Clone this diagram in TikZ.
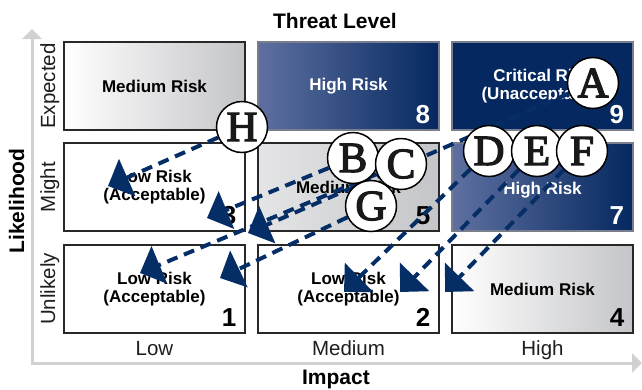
\documentclass[tikz,border=0pt]{standalone}
\usepackage{fontspec}
\setmainfont{Liberation Sans}
\newfontfamily\letterfont[FakeBold=3]{Liberation Serif}
\usetikzlibrary{arrows.meta}

\definecolor{navy}{RGB}{5,40,96}
\definecolor{steel}{RGB}{94,112,160}
\definecolor{cellgray}{RGB}{196,197,200}
\definecolor{cellline}{RGB}{40,40,40}
\definecolor{blueline}{RGB}{120,126,140}
\definecolor{axisgray}{RGB}{208,209,211}
\definecolor{linkblue}{RGB}{6,46,102}
\definecolor{labelgray}{RGB}{30,30,30}

\pgfdeclarelayer{cells}
\pgfdeclarelayer{links}
\pgfsetlayers{cells,links,main}

\tikzset{
  cell/.style={minimum width=181pt, minimum height=88pt, inner sep=0pt,
    align=center, font=\fontsize{17}{18}\selectfont\bfseries,
    draw=cellline, line width=1.8pt},
  whitecell/.style={cell, fill=white},
  graycell/.style={cell, left color=white, right color=cellgray},
  darkgraycell/.style={cell, left color=cellgray!45, right color=cellgray},
  bluecell/.style={cell, draw=blueline, line width=1.1pt, text=white,
    left color=steel, middle color=navy!75!steel, right color=navy},
  navycell/.style={cell, draw=blueline, line width=1.1pt, text=white, fill=navy},
  cellnum/.style={anchor=base east, font=\fontsize{26}{26}\selectfont\bfseries},
  marker/.style={circle, draw=black, line width=1.5pt, fill=white,
    minimum size=51pt, inner sep=0pt, text=black!90,
    font=\letterfont\fontsize{43}{43}\selectfont},
  link/.style={draw=linkblue, line width=4pt, dash pattern=on 11pt off 7pt,
    -{Triangle[length=21pt,width=40pt]}},
  axisline/.style={draw=axisgray, line width=3pt,
    {Triangle[length=10pt,width=19pt]}-{Triangle[length=10pt,width=19pt]}},
  axistitle/.style={font=\fontsize{21}{21}\selectfont\bfseries, text=black},
  ticklabel/.style={font=\fontsize{20.5}{21}\selectfont, text=labelgray},
}

\begin{document}
\begin{tikzpicture}[x=1pt,y=-1pt]
\useasboundingbox (0,0) rectangle (642,389);

% axes
\coordinate (origin) at (32,363);
\coordinate (ytip) at (32,29);
\coordinate (xtip) at (642,363);
\begin{pgfonlayer}{cells}
\draw[axisline] (ytip) -- (origin) -- (xtip);

% risk matrix cells: rows Expected / Might / Unlikely, columns Low / Medium / High
\node[graycell] (c6) at (154.5,86) {Medium Risk};
\node[bluecell] (c8) at (348.5,86) {High Risk};
\node[navycell] (c9) at (542.5,86) {Critical Risk\\(Unacceptable)};
\node[whitecell] (c3) at (154.5,187) {Low Risk\\(Acceptable)};
\node[darkgraycell] (c5) at (348.5,187) {Medium Risk};
\node[bluecell] (c7) at (542.5,187) {};
\node[whitecell] (c1) at (154.5,289) {Low Risk\\(Acceptable)};
\node[whitecell] (c2) at (348.5,289) {Low Risk\\(Acceptable)};
\node[graycell] (c4) at (542.5,289) {Medium Risk};
\node[font=\fontsize{17}{18}\selectfont\bfseries, text=white] (c7t) at (542.5,190) {High Risk};

\node[cellnum, text=white] at ([xshift=-6pt,yshift=7pt]c8.south east) {8};
\node[cellnum, text=white] at ([xshift=-6pt,yshift=7pt]c9.south east) {9};
\node[cellnum] at ([xshift=-6pt,yshift=7pt]c3.south east) {3};
\node[cellnum] at ([xshift=-6pt,yshift=7pt]c5.south east) {5};
\node[cellnum, text=white] at ([xshift=-6pt,yshift=7pt]c7.south east) {7};
\node[cellnum] at ([xshift=-6pt,yshift=7pt]c1.south east) {1};
\node[cellnum] at ([xshift=-6pt,yshift=7pt]c2.south east) {2};
\node[cellnum] at ([xshift=-6pt,yshift=7pt]c4.south east) {4};
\end{pgfonlayer}

% axis titles and tick labels
\node[axistitle, anchor=base] (tl) at (335,28) {Threat Level};
\node[axistitle, anchor=base] (im) at (336,384) {Impact};
\node[axistitle, anchor=base, rotate=90] (lh) at (24,201) {Likelihood};
\node[ticklabel, anchor=base, rotate=90] (ex) at (55,86) {Expected};
\node[ticklabel, anchor=base, rotate=90] (mi) at (55,187) {Might};
\node[ticklabel, anchor=base, rotate=90] (un) at (55,289) {Unlikely};
\node[ticklabel, anchor=base] (lo) at (154.5,355) {Low};
\node[ticklabel, anchor=base] (me) at (348.5,355) {Medium};
\node[ticklabel, anchor=base] (hi) at (542.5,355) {High};

% lettered markers
\node[marker] (H) at (242,127) {H};
\node[marker] (A) at (593,83) {A};
\node[marker] (B) at (353,158) {B};
\node[marker] (C) at (401,164) {C};
\node[marker] (G) at (371,206) {G};
\node[marker] (D) at (489,151) {D};
\node[marker] (E) at (537,151) {E};
\node[marker] (F) at (582,151) {F};

% arrow targets
\coordinate (tH) at (108,186);
\coordinate (tB) at (207,218);
\coordinate (tA) at (248,233);
\coordinate (tC) at (140,273);
\coordinate (tG) at (220,278);
\coordinate (tD) at (344,292);
\coordinate (tE) at (400,292);
\coordinate (tF) at (445,292);

\begin{pgfonlayer}{links}
\draw[link] (H) -- (tH);
\draw[link] (B) -- (tB);
\draw[link] (A) -- (tA);
\draw[link] (C) -- (tC);
\draw[link] (G) -- (tG);
\draw[link] (D) -- (tD);
\draw[link] (E) -- (tE);
\draw[link] (F) -- (tF);
\end{pgfonlayer}
\end{tikzpicture}
\end{document}
